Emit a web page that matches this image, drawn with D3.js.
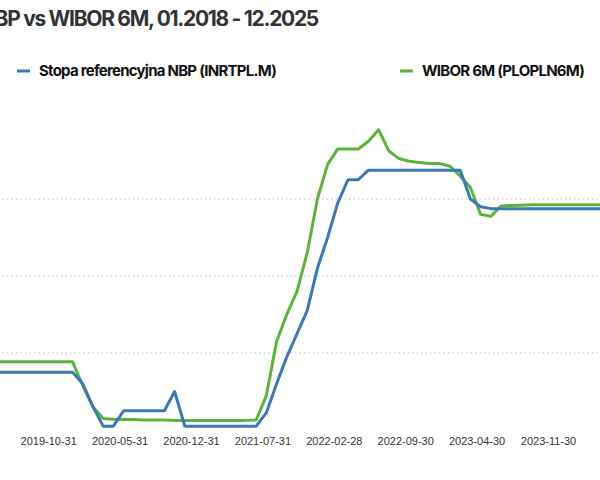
<!DOCTYPE html>
<html><head><meta charset="utf-8">
<script src="https://cdn.jsdelivr.net/npm/d3@7"></script>
<style>body{margin:0;background:#fff;overflow:hidden}svg{display:block;font-family:Inter,'Noto Sans',sans-serif}</style>
</head><body>
<script>
const startMonth = "2018-01";
const nbp = [1.5,1.5,1.5,1.5,1.5,1.5,1.5,1.5,1.5,1.5,1.5,1.5,1.5,1.5,1.5,1.5,1.5,1.5,1.5,1.5,1.5,1.5,1.5,1.5,
 1.2,0.6,0.1,0.1,0.5,0.5,0.5,0.5,0.5,1.0,0.1,0.1,0.1,0.1,0.1,0.1,0.1,0.1,
 0.45,1.2,1.9,2.5,3.1,4.2,5.0,5.9,6.5,6.5,6.75,6.75,6.75,6.75,6.75,6.75,6.75,6.75,6.75,6.75,
 6.0,5.8,5.75,5.75,5.75,5.75,5.75,5.75,5.75,5.75,5.75,5.75,5.75,5.75,5.75,5.75,5.75,5.75,5.75,5.75,
 5.75,5.75,5.75,5.75,5.75,5.75,5.75,5.75,5.75,5.75,5.75,5.75];
const wibor = [1.77,1.77,1.77,1.77,1.77,1.77,1.77,1.77,1.77,1.77,1.77,1.77,1.77,1.77,1.77,1.77,1.77,1.77,1.77,1.77,1.77,1.77,1.77,1.77,
 1.15,0.6,0.3,0.28,0.27,0.27,0.26,0.26,0.26,0.25,0.25,0.25,0.25,0.25,0.25,0.25,0.25,0.26,
 0.9,2.3,3.0,3.6,4.6,6.0,6.9,7.3,7.3,7.3,7.5,7.8,7.25,7.05,6.98,6.95,6.92,6.92,6.85,6.6,
 6.3,5.6,5.55,5.82,5.83,5.84,5.85,5.85,5.85,5.85,5.85,5.85,5.85,5.85,5.85,5.85,5.85,5.85,5.85,5.85,
 5.85,5.85,5.85,5.85,5.85,5.85,5.85,5.85,5.85,5.85,5.85,5.85];
const tickIdx = [21,28,35,42,49,56,63,70];
const tickLabels = ["2019-10-31","2020-05-31","2020-12-31","2021-07-31","2022-02-28","2022-09-30","2023-04-30","2023-11-30"];
const gridVals = [2,4,6];
const names = ["Stopa referencyjna NBP (INRTPL.M)","WIBOR 6M (PLOPLN6M)"];

const svg = d3.select("body").append("svg").attr("width",600).attr("height",480);
const x = d3.scaleLinear().domain([0,95]).range([-162,807]);
const y = d3.scaleLinear().domain([0,8]).range([430,122]);

svg.append("g").selectAll("line").data(gridVals).join("line")
 .attr("x1",-200).attr("x2",900).attr("y1",d=>y(d)).attr("y2",d=>y(d))
 .attr("stroke","#bbb").attr("stroke-dasharray","1.5,3");

const x0 = d3.scaleLinear().domain([0,95]).range([-166,803]);
const ax = svg.append("g").attr("transform","translate(0,430)")
 .call(d3.axisBottom(x0).tickValues(tickIdx).tickFormat((d,i)=>tickLabels[i]).tickSize(0).tickPadding(7));
ax.select(".domain").remove();
ax.selectAll("text").attr("font-size",11).attr("fill","#333");

const line = d3.line().x((d,i)=>x(i)).y(d=>y(d));
svg.append("path").datum(wibor).attr("d",line).attr("fill","none").attr("stroke","#5cb33a").attr("stroke-width",3).attr("stroke-linejoin","round");
svg.append("path").datum(nbp).attr("d",line).attr("fill","none").attr("stroke","#3b78b4").attr("stroke-width",3).attr("stroke-linejoin","round");

svg.append("text").attr("x",318).attr("y",26).attr("text-anchor","end")
 .attr("font-size",21).attr("font-weight",700).attr("fill","#333").attr("letter-spacing","-1.3")
 .text("Stopa referencyjna NBP vs WIBOR 6M, 01.2018 - 12.2025");

const leg = [{x:17,c:"#3b78b4",t:names[0]},{x:400,c:"#5cb33a",t:names[1]}];
leg.forEach(l=>{
 svg.append("line").attr("x1",l.x).attr("x2",l.x+13).attr("y1",71).attr("y2",71).attr("stroke",l.c).attr("stroke-width",3);
 svg.append("text").attr("x",l.x+22).attr("y",76).attr("font-size",15).attr("font-weight",700).attr("fill","#111").attr("letter-spacing","-0.75").text(l.t);
});
</script>
</body></html>
